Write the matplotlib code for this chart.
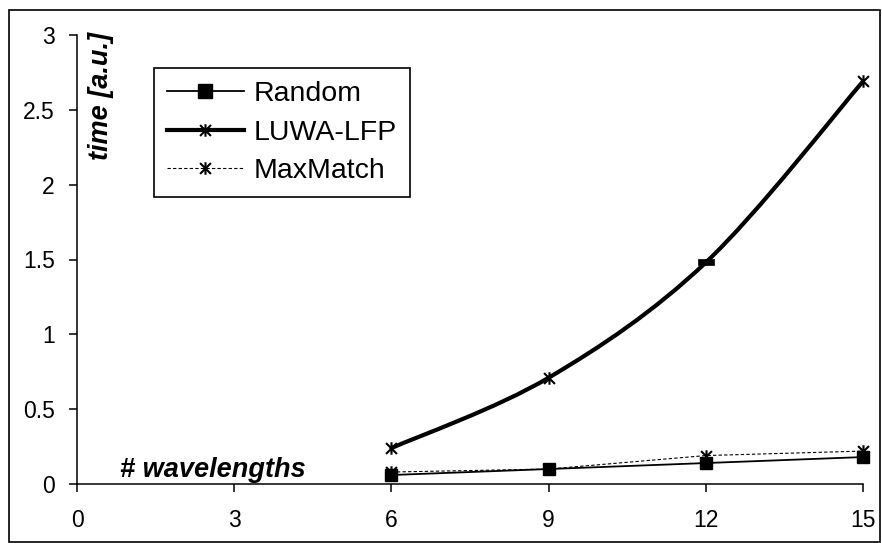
import numpy as np
import matplotlib
matplotlib.use("Agg")
import matplotlib.pyplot as plt
from matplotlib.path import Path
from matplotlib.patches import PathPatch, Rectangle
from matplotlib.lines import Line2D

# ---- data ----
wavelengths = [6, 9, 12, 15]
random_t = [0.06, 0.10, 0.14, 0.18]
luwa_t = [0.24, 0.71, 1.48, 2.69]
maxmatch_t = [0.08, 0.10, 0.19, 0.22]
series_names = ["Random", "LUWA-LFP", "MaxMatch"]
xticks = [0, 3, 6, 9, 12, 15]
yticks = [0, 0.5, 1, 1.5, 2, 2.5, 3]
ytick_labels = ["0", "0.5", "1", "1.5", "2", "2.5", "3"]

plt.rcParams['font.family'] = ['Liberation Sans', 'DejaVu Sans']

W, H = 882, 543
fig = plt.figure(figsize=(W / 100, H / 100), dpi=100)
ax = fig.add_axes([77 / W, 1 - 484 / H, (863 - 77) / W, (484 - 35) / H])

# asterisk marker (x with vertical bar)
ast = Path([(-1, -1), (1, 1), (-1, 1), (1, -1), (0, -1.15), (0, 1.15)],
           [Path.MOVETO, Path.LINETO, Path.MOVETO, Path.LINETO, Path.MOVETO, Path.LINETO])
# flat bar marker (as drawn at one LUWA point in the original)
bar = Path([(-1, -0.38), (1, -0.38), (1, 0.38), (-1, 0.38), (-1, -0.38)],
           [Path.MOVETO, Path.LINETO, Path.LINETO, Path.LINETO, Path.CLOSEPOLY])


def smooth_path(xs, ys):
    pts = np.column_stack([xs, ys]).astype(float)
    n = len(pts)
    verts = [pts[0]]
    codes = [Path.MOVETO]
    for i in range(n - 1):
        p0 = pts[i - 1] if i > 0 else pts[i]
        p1 = pts[i]
        p2 = pts[i + 1]
        p3 = pts[i + 2] if i + 2 < n else pts[i + 1]
        c1 = p1 + (p2 - p0) / 6.0
        c2 = p2 - (p3 - p1) / 6.0
        verts += [c1, c2, p2]
        codes += [Path.CURVE4] * 3
    return Path(verts, codes)


# Random
ax.plot(wavelengths, random_t, color='black', lw=1.3, marker='s', ms=9,
        mfc='black', mec='black', zorder=3, clip_on=False)
# MaxMatch
ax.plot(wavelengths, maxmatch_t, color='black', lw=0.8, ls=(0, (3, 2)), marker=ast,
        ms=9, mew=1.5, mfc='none', mec='black', zorder=2, clip_on=False)
# LUWA-LFP smooth curve
ax.add_patch(PathPatch(smooth_path(wavelengths, luwa_t), fill=False, ec='black',
                       lw=3.0, capstyle='round', joinstyle='round', zorder=2, clip_on=False))
ax.plot(wavelengths, luwa_t, ls='none', marker=ast, ms=9, mew=1.5, mec='black',
        markevery=[0, 1, 3], zorder=3, clip_on=False)
ax.plot(wavelengths, luwa_t, ls='none', marker=bar, ms=11.5, mew=0.5, mec='black',
        mfc='black', markevery=[2], zorder=3, clip_on=False)

ax.set_xlim(0, 15)
ax.set_ylim(0, 3)
ax.set_xticks(xticks)
ax.set_xticklabels([str(t) for t in xticks])
ax.set_yticks(yticks)
ax.set_yticklabels(ytick_labels)
for s in ['top', 'right']:
    ax.spines[s].set_visible(False)
for s in ['left', 'bottom']:
    ax.spines[s].set_linewidth(1.1)
ax.tick_params(axis='both', direction='out', length=6, width=1.1, labelsize=16.5)
ax.tick_params(axis='x', pad=12)
ax.tick_params(axis='y', pad=10)
ax.patch.set_alpha(0)

# legend
handles = [
    Line2D([], [], color='black', lw=1.3, marker='s', ms=9.5, mfc='black', mec='black'),
    Line2D([], [], color='black', lw=3.0, marker=ast, ms=9, mew=1.5, mec='black'),
    Line2D([], [], color='black', lw=0.8, ls=(0, (3, 2)), marker=ast, ms=9, mew=1.5, mec='black'),
]
leg = ax.legend(handles, series_names, loc='upper left',
                bbox_to_anchor=((154 - 77) / 786, (484 - 68) / 449),
                borderaxespad=0, frameon=True, fancybox=False, shadow=False,
                fontsize=20.5, handlelength=2.7, handletextpad=0.35,
                borderpad=0.45, labelspacing=0.45, framealpha=1)
leg.get_frame().set_edgecolor('black')
leg.get_frame().set_linewidth(1.2)

# axis titles inside plot
ax.text((120 - 77) / 786, (484 - 477) / 449, "# wavelengths", transform=ax.transAxes,
        fontsize=19.5, fontweight='bold', fontstyle='italic', ha='left', va='baseline')
ax.text((101 - 77) / 786, (484 - 96) / 449, "time [a.u.]", transform=ax.transAxes,
        fontsize=19.5, fontweight='bold', fontstyle='italic', ha='center', va='center',
        rotation=90)

# figure border
fig.patches.append(Rectangle((9 / W, 1 / H), (880 - 9) / W, 532 / H,
                             transform=fig.transFigure, fill=False, ec='black', lw=1.2))

fig.savefig("out.png", dpi=100)
